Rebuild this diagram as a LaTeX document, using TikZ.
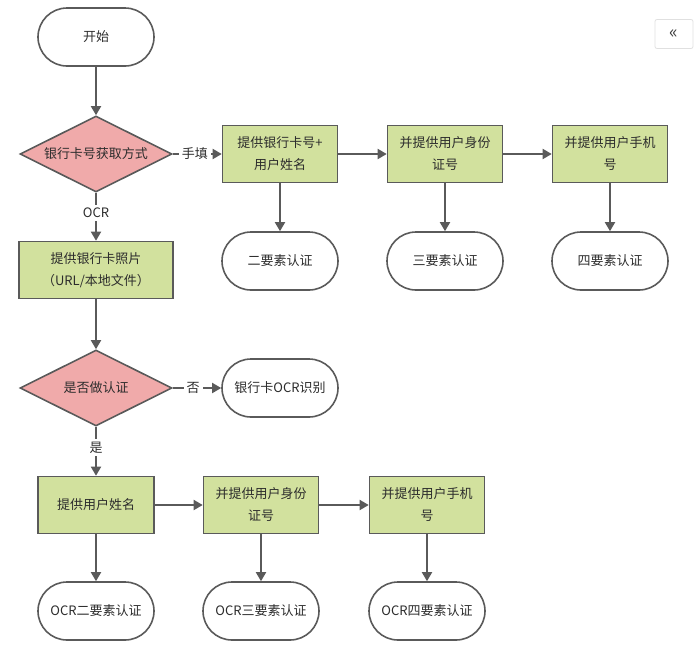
\documentclass[tikz,border=0pt]{standalone}
\usepackage{fontspec}
\newfontfamily\cjk{Noto Sans CJK SC}
\usepackage{tikz}
\usetikzlibrary{shapes.geometric, shapes.misc, arrows.meta, positioning}

\definecolor{procgreen}{RGB}{210,225,158}
\definecolor{decpink}{RGB}{240,170,170}
\definecolor{linegray}{RGB}{90,90,90}
\definecolor{textgray}{RGB}{45,45,45}

\begin{document}
\begin{tikzpicture}[
		x=1pt, y=-1pt,
		every node/.style={font=\cjk\fontsize{13}{22}\selectfont, text=textgray},
		terminal/.style={draw=linegray, line width=1.6pt, rounded rectangle, fill=white, minimum width=116pt, minimum height=58pt, inner sep=0pt},
		process/.style={draw=linegray, line width=1.6pt, rectangle, fill=procgreen, minimum width=115pt, minimum height=57pt, align=center, inner sep=0pt},
		decision/.style={draw=linegray, line width=1.6pt, diamond, aspect=2, fill=decpink, minimum width=152pt, minimum height=76pt, inner sep=0pt},
		arrow/.style={-{Triangle[length=9pt, width=10pt]}, line width=1.8pt, draw=linegray},
		choice/.style={fill=white, inner sep=3pt}
		]
		\useasboundingbox (0,0) rectangle (697,646);
		
		% top part
		\node[terminal] (start) at (96, 37) {开始};
		\node[decision] (way) at (96, 154) {银行卡号获取方式};
		\draw[arrow] (start) -- (way);
		
		% manual input
		\node[process] (card) at (280, 154) {提供银行卡号+\\用户姓名};
		\node[process] (idno) at (445, 154) {并提供用户身份\\证号};
		\node[process] (phone) at (610, 154) {并提供用户手机\\号};
		\node[terminal] (two) at (280, 261) {二要素认证};
		\node[terminal] (three) at (445, 261) {三要素认证};
		\node[terminal] (four) at (610, 261) {四要素认证};
		\draw[arrow] (way) -- (card) node[choice, pos=0.45] {手填};
		\draw[arrow] (card) -- (idno);
		\draw[arrow] (idno) -- (phone);
		\draw[arrow] (card) -- (two);
		\draw[arrow] (idno) -- (three);
		\draw[arrow] (phone) -- (four);
		
		% OCR
		\node[process, minimum width=154pt] (photo) at (96, 270) {提供银行卡照片\\（URL/本地文件）};
		\draw[arrow] (way) -- (photo) node[choice, pos=0.42] {OCR};
		\node[decision] (auth) at (96, 388) {是否做认证};
		\draw[arrow] (photo) -- (auth);
		\node[terminal] (ocronly) at (280, 388) {银行卡OCR识别};
		\draw[arrow] (auth) -- (ocronly) node[choice, pos=0.42] {否};
		
		\node[process, minimum width=116pt] (name) at (96, 505) {提供用户姓名};
		\node[process] (idno2) at (261, 505) {并提供用户身份\\证号};
		\node[process] (phone2) at (427, 505) {并提供用户手机\\号};
		\node[terminal] (otwo) at (96, 611) {OCR二要素认证};
		\node[terminal] (othree) at (261, 611) {OCR三要素认证};
		\node[terminal] (ofour) at (427, 611) {OCR四要素认证};
		\draw[arrow] (auth) -- (name) node[choice, pos=0.42] {是};
		\draw[arrow] (name) -- (idno2);
		\draw[arrow] (idno2) -- (phone2);
		\draw[arrow] (name) -- (otwo);
		\draw[arrow] (idno2) -- (othree);
		\draw[arrow] (phone2) -- (ofour);
		
		% side button
		\node[draw=black!12, line width=0.8pt, rounded corners=2pt, minimum width=38pt, minimum height=29pt, inner sep=0pt, text=black!75, font=\cjk\fontsize{18}{18}\selectfont] (fold) at (674, 34) {«};
	\end{tikzpicture}
\end{document}
